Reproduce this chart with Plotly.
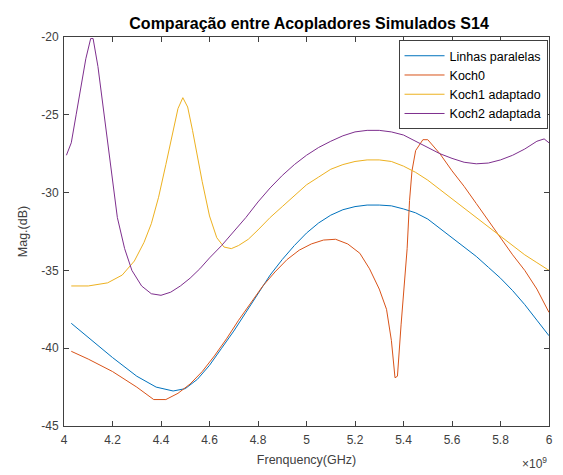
import plotly.graph_objects as go

# ---------------- data ----------------
f_lin = [4.03, 4.10, 4.20, 4.30, 4.38, 4.45, 4.50, 4.55, 4.60, 4.65, 4.70, 4.75, 4.80,
         4.85, 4.90, 4.95, 5.00, 5.05, 5.10, 5.15, 5.20, 5.25, 5.30, 5.35, 5.40, 5.45,
         5.50, 5.55, 5.60, 5.65, 5.70, 5.75, 5.80, 5.85, 5.90, 5.95, 6.00]
db_lin = [-38.4, -39.3, -40.6, -41.8, -42.5, -42.75, -42.6, -42.0, -41.1, -40.0, -38.9, -37.7, -36.5,
          -35.3, -34.3, -33.4, -32.6, -31.95, -31.45, -31.1, -30.9, -30.8, -30.8, -30.85, -31.05, -31.3,
          -31.7, -32.3, -32.9, -33.5, -34.1, -34.8, -35.5, -36.3, -37.2, -38.2, -39.2]

f_k0 = [4.03, 4.10, 4.20, 4.30, 4.37, 4.42, 4.47, 4.52, 4.57, 4.62, 4.67, 4.72, 4.77, 4.82,
        4.87, 4.92, 4.97, 5.02, 5.07, 5.12, 5.17, 5.22, 5.26, 5.30, 5.33, 5.35, 5.365, 5.375,
        5.39, 5.405, 5.415, 5.425, 5.435, 5.45, 5.48, 5.50, 5.55, 5.60, 5.65, 5.70, 5.75,
        5.80, 5.85, 5.90, 5.95, 6.00]
db_k0 = [-40.2, -40.7, -41.5, -42.5, -43.3, -43.3, -42.9, -42.3, -41.5, -40.5, -39.4, -38.2, -37.1, -36.0,
         -35.1, -34.3, -33.7, -33.3, -33.05, -33.0, -33.3, -33.9, -34.9, -36.2, -37.5, -39.5, -41.9, -41.8,
         -38.5, -35.8, -33.6, -30.5, -28.6, -27.3, -26.6, -26.6, -27.5, -28.6, -29.6, -30.7, -31.8,
         -32.9, -34.0, -35.0, -36.2, -37.7]

f_k1 = [4.03, 4.10, 4.18, 4.24, 4.29, 4.33, 4.36, 4.39, 4.42, 4.45, 4.47, 4.49, 4.51, 4.53,
        4.55, 4.57, 4.60, 4.63, 4.66, 4.69, 4.72, 4.76, 4.80, 4.85, 4.90, 4.95, 5.00, 5.05,
        5.10, 5.15, 5.20, 5.25, 5.30, 5.35, 5.40, 5.45, 5.50, 5.55, 5.60, 5.65, 5.70, 5.75,
        5.80, 5.85, 5.90, 5.95, 6.00]
db_k1 = [-36.0, -36.0, -35.8, -35.3, -34.4, -33.2, -32.0, -30.3, -28.2, -26.0, -24.6, -23.9, -24.5, -26.0,
         -27.7, -29.3, -31.5, -32.9, -33.5, -33.6, -33.4, -33.0, -32.4, -31.6, -30.9, -30.2, -29.5, -29.0,
         -28.5, -28.2, -28.0, -27.9, -27.9, -28.0, -28.3, -28.7, -29.2, -29.8, -30.4, -31.0, -31.6, -32.2,
         -32.8, -33.4, -34.0, -34.5, -35.0]

f_k2 = [4.01, 4.03, 4.05, 4.07, 4.09, 4.11, 4.12, 4.14, 4.16, 4.18, 4.20, 4.22, 4.25, 4.28,
        4.32, 4.36, 4.40, 4.44, 4.48, 4.52, 4.56, 4.60, 4.65, 4.70, 4.75, 4.80, 4.85, 4.90,
        4.95, 5.00, 5.05, 5.10, 5.15, 5.20, 5.25, 5.30, 5.35, 5.40, 5.45, 5.50, 5.55, 5.60,
        5.65, 5.70, 5.75, 5.80, 5.85, 5.90, 5.95, 5.98, 6.00]
db_k2 = [-27.6, -26.8, -25.0, -23.2, -21.4, -20.1, -20.1, -21.9, -24.4, -26.9, -29.2, -31.6, -33.6, -35.0,
         -36.0, -36.5, -36.6, -36.4, -36.0, -35.5, -34.9, -34.2, -33.4, -32.5, -31.6, -30.6, -29.7, -28.9,
         -28.2, -27.6, -27.1, -26.7, -26.35, -26.1, -26.0, -26.0, -26.1, -26.3, -26.7, -27.1, -27.5, -27.8,
         -28.05, -28.15, -28.1, -27.9, -27.6, -27.2, -26.7, -26.55, -26.8]

series_names = ["Linhas paralelas", "Koch0", "Koch1 adaptado", "Koch2 adaptada"]
series_colors = ["#0072BD", "#D95319", "#EDB120", "#7E2F8E"]

x_ticks = [4, 4.2, 4.4, 4.6, 4.8, 5, 5.2, 5.4, 5.6, 5.8, 6]
x_tick_labels = ["4", "4.2", "4.4", "4.6", "4.8", "5", "5.2", "5.4", "5.6", "5.8", "6"]
y_ticks = [-45, -40, -35, -30, -25, -20]
y_tick_labels = ["-45", "-40", "-35", "-30", "-25", "-20"]

# ---------------- figure ----------------
FONT = "Liberation Sans, Arial, Helvetica, sans-serif"
AX = "#404040"

fig = go.Figure()
for fx, fy, name, col in zip([f_lin, f_k0, f_k1, f_k2], [db_lin, db_k0, db_k1, db_k2],
                             series_names, series_colors):
    fig.add_trace(go.Scatter(x=fx, y=fy, mode="lines", name=name,
                             line=dict(color=col, width=1)))

axis_common = dict(
    showline=True, linecolor=AX, linewidth=1, mirror="ticks",
    ticks="inside", ticklen=5, tickcolor=AX, tickwidth=1,
    showgrid=False, zeroline=False,
    tickfont=dict(family=FONT, size=12, color=AX),
)

fig.update_layout(
    width=563, height=475,
    margin=dict(l=64, r=10, t=37, b=49),
    paper_bgcolor="white", plot_bgcolor="white",
    font=dict(family=FONT, color=AX),
    title=dict(text="<b>Comparação entre Acopladores Simulados S14</b>",
               x=0.549, xanchor="center", y=0.951, yanchor="middle",
               font=dict(family=FONT, size=16, color="black")),
    xaxis=dict(range=[4, 6], tickvals=x_ticks, ticktext=x_tick_labels,
               ticklabelstandoff=3,
               title=dict(text="Frenquency(GHz)", font=dict(family=FONT, size=12.5, color=AX),
                          standoff=8),
               **axis_common),
    yaxis=dict(range=[-45, -20], tickvals=y_ticks, ticktext=y_tick_labels,
               ticklabelstandoff=2,
               title=dict(text="Mag.(dB)", font=dict(family=FONT, size=12.5, color=AX),
                          standoff=10),
               **axis_common),
    legend=dict(x=0.997, xanchor="right", y=0.992, yanchor="top",
                bgcolor="white", bordercolor=AX, borderwidth=1,
                font=dict(family=FONT, size=12.5, color="black"),
                tracegroupgap=0, itemwidth=40),
    showlegend=True,
)

fig.add_annotation(text="×10<sup>9</sup>", xref="paper", yref="paper",
                   x=1.0, y=-0.12, xanchor="right", yanchor="bottom", showarrow=False,
                   font=dict(family=FONT, size=12, color=AX))

fig.write_html("out.html")
